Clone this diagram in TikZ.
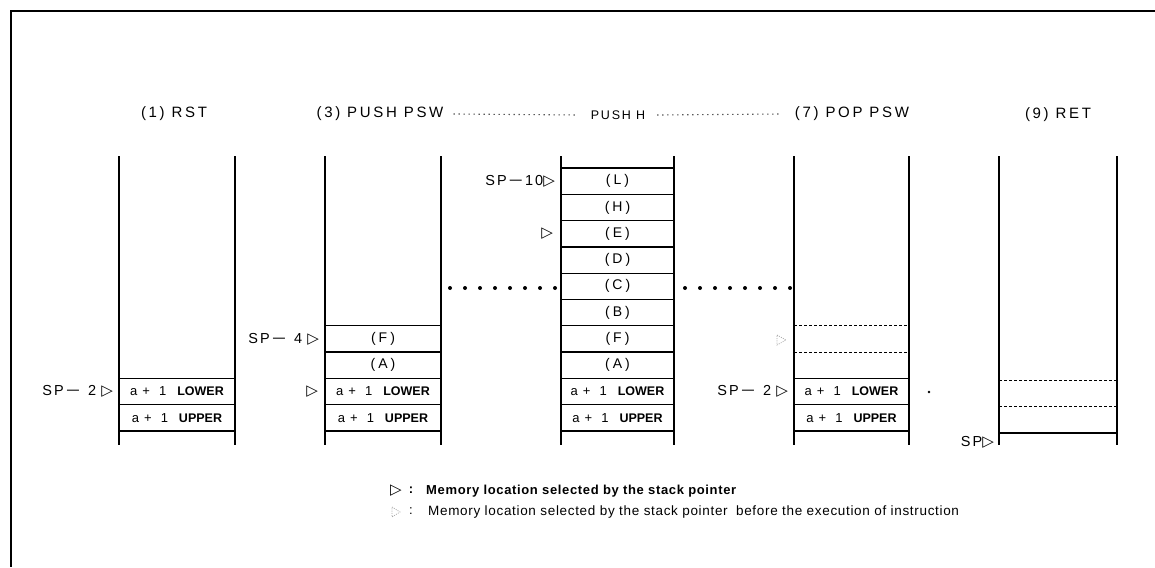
\documentclass[tikz,border=0pt]{standalone}
\usepackage{fontspec}
\usepackage{graphicx}
\setmainfont{Liberation Sans}
\newfontfamily\spacedfont[LetterSpace=14]{Liberation Sans}
\newfontfamily\titlefont[LetterSpace=18]{Liberation Sans}
\newfontfamily\legfont[LetterSpace=5]{Liberation Sans}
\newfontfamily\symfont{DejaVu Sans}
\newcommand\tri{{\symfont\fontsize{15}{15}\selectfont ▷}}
\newcommand\lminus{\scalebox{1.7}[1]{−}}
\newcommand\aone[1]{a\hspace{5pt}+\hspace{9pt}1\hspace{11pt}{\bfseries\fontsize{12.5}{13}\selectfont #1}}
\newcommand\paren[1]{(\hspace{3pt}#1\hspace{3pt})}
\tikzset{
  frame/.style={line width=2.2pt},
  wall/.style={line width=1.5pt},
  cellline/.style={line width=1.3pt},
  dashline/.style={line width=0.9pt, dash pattern=on 3pt off 2pt},
  titletext/.style={inner sep=0pt, font=\titlefont\fontsize{15}{16}\selectfont},
  celltext/.style={inner sep=0pt, font=\fontsize{13}{14}\selectfont},
  regtext/.style={inner sep=0pt, font=\spacedfont\fontsize{14}{15}\selectfont},
  ptr/.style={anchor=east, inner sep=0pt, font=\spacedfont\fontsize{14.5}{15}\selectfont},
  bigdot/.style={circle, fill=black, inner sep=0pt, minimum size=4pt},
  finedots/.style={line width=1.1pt, dash pattern=on 1.1pt off 3.9pt},
  ghost/.style={gray!70, line width=0.7pt, dash pattern=on 1pt off 1.2pt},
  legend/.style={anchor=west, inner sep=0pt}
}
\begin{document}
\begin{tikzpicture}[x=1pt,y=-1pt]
\useasboundingbox (0,0) rectangle (1155,567);
% frame
\draw[frame] (1155,11) -- (11,11) -- (11,567);

% titles
\node[titletext] (t1) at (174,114) {(1) RST};
\node[titletext] (t3) at (380,114) {(3) PUSH PSW};
\node[titletext, font=\spacedfont\fontsize{12.5}{14}\selectfont] (t5) at (618,115) {PUSH H};
\node[titletext] (t7) at (852,114) {(7) POP PSW};
\node[titletext] (t9) at (1058,115) {(9) RET};
\draw[finedots] ([xshift=10pt]t3.east) -- ([xshift=-14pt]t5.west);
\draw[finedots] ([xshift=12pt]t5.east) -- ([xshift=-14pt]t7.west);

% stack walls
\foreach \xl/\xr in {119/235, 325/441, 561/674, 794/909, 999/1117}{
  \draw[wall] (\xl,156) -- (\xl,445);
  \draw[wall] (\xr,156) -- (\xr,445);
}

% stack 1 (RST)
\foreach \y in {431,404.7,378.4} \draw[cellline] (119,\y) -- (235,\y);
\node[celltext] (s1lo) at (177,391.5) {\aone{LOWER}};
\node[celltext] (s1up) at (177,417.8) {\aone{UPPER}};
\node[ptr] (p1) at (113,391.5) {SP\hspace{2pt}\lminus\hspace{8pt}2\hspace{5pt}\tri};

% stack 2 (PUSH PSW)
\foreach \y in {431,404.7,378.4,352.1,325.8} \draw[cellline] (325,\y) -- (441,\y);
\node[regtext] (s2f) at (383,339) {\paren{F}};
\node[regtext] (s2a) at (383,365.2) {\paren{A}};
\node[celltext] (s2lo) at (383,391.5) {\aone{LOWER}};
\node[celltext] (s2up) at (383,417.8) {\aone{UPPER}};
\node[ptr] (p2) at (319,339) {SP\hspace{2pt}\lminus\hspace{8pt}4\hspace{5pt}\tri};
\node[ptr] (p2b) at (318,391.5) {\tri};

% stack 3 (PUSH H)
\foreach \y in {431,404.7,378.4,352.1,325.8,299.5,273.2,246.9,220.6,194.3,168}
  \draw[cellline] (561,\y) -- (674,\y);
\node[celltext] (s3up) at (617.5,417.8) {\aone{UPPER}};
\node[celltext] (s3lo) at (617.5,391.5) {\aone{LOWER}};
\foreach \lab/\y/\nm in {A/365.2/a, F/339/f, B/312.6/b, C/286.3/c, D/260/d, E/233.7/e, H/207.4/h, L/181.1/l}
  \node[regtext] (s3\nm) at (617.5,\y) {\paren{\lab}};
\node[ptr] (p3) at (555,181.1) {SP\hspace{2pt}\lminus\hspace{2pt}10\tri};
\node[ptr] (p3b) at (553,233.7) {\tri};

% dotted connections between stacks
\foreach \x in {450,465,...,555} \node[bigdot] at (\x,288) {};
\foreach \x in {685,700,...,790} \node[bigdot] at (\x,288) {};

% stack 4 (POP PSW)
\foreach \y in {431,404.7,378.4} \draw[cellline] (794,\y) -- (909,\y);
\foreach \y in {352.1,325.8} \draw[dashline] (794,\y) -- (909,\y);
\node[celltext] (s4lo) at (851.5,391.5) {\aone{LOWER}};
\node[celltext] (s4up) at (851.5,417.8) {\aone{UPPER}};
\node[ptr] (p4) at (788,391.5) {SP\hspace{2pt}\lminus\hspace{8pt}2\hspace{5pt}\tri};
\draw[ghost] (777,335) -- (786,340) -- (777,345) -- cycle;
\fill (929,392) circle (1.3pt);

% stack 5 (RET)
\draw[cellline] (999,433) -- (1117,433);
\foreach \y in {406,380} \draw[dashline] (999,\y) -- (1117,\y);
\node[ptr] (p5) at (994,442) {SP\tri};

% legend
\node[inner sep=0pt] (k1) at (396,491) {\tri};
\node[inner sep=0pt, font=\bfseries\fontsize{13}{14}\selectfont] (k1c) at (411,490) {:};
\node[legend, font=\legfont\bfseries\fontsize{13}{14}\selectfont] (k1t) at (426,491) {Memory location selected by the stack pointer};
\draw[ghost] (392,507) -- (400,512) -- (392,517) -- cycle;
\node[inner sep=0pt, font=\fontsize{13}{14}\selectfont] (k2c) at (411,511) {:};
\node[legend, font=\legfont\fontsize{13.5}{14}\selectfont] (k2t) at (428,512) {Memory location selected by the stack pointer\hspace{4pt} before the execution of instruction};
\end{tikzpicture}
\end{document}
